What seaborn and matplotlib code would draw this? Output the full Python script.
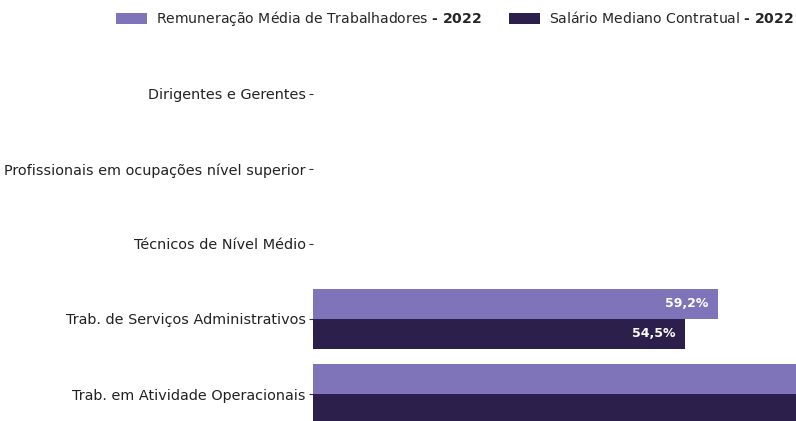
import numpy as np
import pandas as pd
import matplotlib
matplotlib.use("Agg")
import matplotlib.pyplot as plt
import seaborn as sns

# Data
categorias = [
    "Dirigentes e Gerentes",
    "Profissionais em ocupações nível superior",
    "Técnicos de Nível Médio",
    "Trab. de Serviços Administrativos",
    "Trab. em Atividade Operacionais",
]
series = [
    "Remuneração Média de Trabalhadores $\\bf{‐\\ 2022}$",
    "Salário Mediano Contratual $\\bf{‐\\ 2022}$",
]
remuneracao = [0, 0, 0, 59.2, 82.6]
salario = [0, 0, 0, 54.5, 78.9]
cores = ["#7f73ba", "#2d1f4c"]

df = pd.DataFrame({
    "Categoria": categorias * 2,
    "Serie": [series[0]] * len(categorias) + [series[1]] * len(categorias),
    "Valor": remuneracao + salario,
})

sns.set_style("white")
plt.rcParams["font.family"] = ["DejaVu Sans"]
plt.rcParams["mathtext.fontset"] = "dejavusans"

fig = plt.figure(figsize=(7.96, 4.21), dpi=100)
# axes run past the bottom/right edges, like the cropped original
ax = fig.add_axes([0.393, -0.025, 0.859, 0.891])

sns.barplot(data=df, y="Categoria", x="Valor", hue="Serie", orient="h",
            palette=cores, width=0.8, saturation=1, linewidth=0, ax=ax, legend=True)

ax.set_xlim(0, 100)
ax.set_xlabel("")
ax.set_ylabel("")
ax.set_xticks([])
sns.despine(ax=ax, left=True, bottom=True)
ax.tick_params(axis="y", left=True, length=3, width=0.8, color="#333333",
               labelsize=10.35, labelcolor="#222222", pad=2)

for cont in ax.containers:
    labels = [("%.1f%%" % v).replace(".", ",") if v > 0 else "" for v in cont.datavalues]
    texts = ax.bar_label(cont, labels=labels, padding=-7, color="white",
                         fontsize=9, fontweight="bold")
    for t in texts:
        t.set_ha("right")

handles, lbls = ax.get_legend_handles_labels()
ax.get_legend().remove()
fig.legend(handles, lbls, loc="upper right", bbox_to_anchor=(1.013, 1.008), ncol=2,
           frameon=False, fontsize=10.1, handlelength=2.2, handleheight=0.8,
           columnspacing=1.9, handletextpad=0.65)

fig.savefig("out.png", dpi=100)
